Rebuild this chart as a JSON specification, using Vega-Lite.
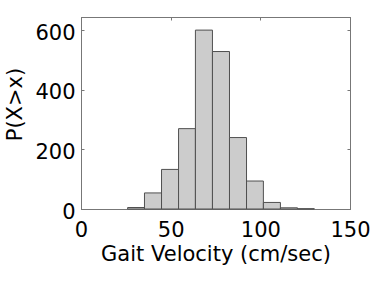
{
  "$schema": "https://vega.github.io/schema/vega-lite/v6.json",
  "width": 269,
  "height": 192,
  "autosize": "none",
  "padding": {"left": 81, "top": 17, "right": 24, "bottom": 77},
  "background": "white",
  "config": {"view": {"stroke": "#777777", "strokeWidth": 1}, "font": "DejaVu Sans"},
  "data": {"values": [
    {"start": 26.0, "end": 35.4, "count": 5},
    {"start": 35.4, "end": 44.9, "count": 54},
    {"start": 44.9, "end": 54.4, "count": 133},
    {"start": 54.4, "end": 63.8, "count": 270},
    {"start": 63.8, "end": 73.3, "count": 601},
    {"start": 73.3, "end": 82.8, "count": 529},
    {"start": 82.8, "end": 92.3, "count": 240},
    {"start": 92.3, "end": 101.7, "count": 94},
    {"start": 101.7, "end": 111.2, "count": 22},
    {"start": 111.2, "end": 120.7, "count": 4},
    {"start": 120.7, "end": 130.1, "count": 1}
  ]},
  "layer": [
    {
      "mark": {"type": "bar", "fill": "#cccccc", "stroke": "#505050", "strokeWidth": 1},
      "encoding": {
        "x": {"field": "start", "type": "quantitative", "scale": {"domain": [0, 150], "nice": false},
          "axis": {"orient": "bottom", "values": [0, 50, 100, 150], "grid": false, "tickSize": -3, "tickColor": "#777777", "domainColor": "#777777",
            "labelFontSize": 21, "labelColor": "black", "labelPadding": 13, "labelFlush": false,
            "title": "Gait Velocity (cm/sec)", "titleFontSize": 21, "titleFontWeight": "normal", "titleColor": "black", "titlePadding": 3}},
        "x2": {"field": "end"},
        "y": {"field": "count", "type": "quantitative", "scale": {"domain": [0, 645], "nice": false},
          "axis": {"orient": "left", "values": [0, 200, 400, 600], "grid": false, "tickSize": -3, "tickColor": "#777777", "domainColor": "#777777",
            "labelFontSize": 21, "labelColor": "black", "labelPadding": 9, "labelOffset": 3, "labelFlush": false,
            "title": "P(X>x)", "titleFontSize": 21, "titleFontWeight": "normal", "titleColor": "black", "titleX": -56, "titleY": 87}},
        "y2": {"datum": 0}
      }
    },
    {
      "mark": {"type": "bar", "opacity": 0},
      "encoding": {
        "x": {"field": "start", "type": "quantitative", "scale": {"domain": [0, 150], "nice": false},
          "axis": {"orient": "top", "values": [0, 50, 100, 150], "grid": false, "tickSize": -3, "tickColor": "#777777", "domainColor": "#777777", "labels": false, "title": null}},
        "x2": {"field": "end"},
        "y": {"field": "count", "type": "quantitative", "scale": {"domain": [0, 645], "nice": false},
          "axis": {"orient": "right", "values": [0, 200, 400, 600], "grid": false, "tickSize": -3, "tickColor": "#777777", "domainColor": "#777777", "labels": false, "title": null}},
        "y2": {"datum": 0}
      }
    }
  ],
  "resolve": {"axis": {"x": "independent", "y": "independent"}}
}
